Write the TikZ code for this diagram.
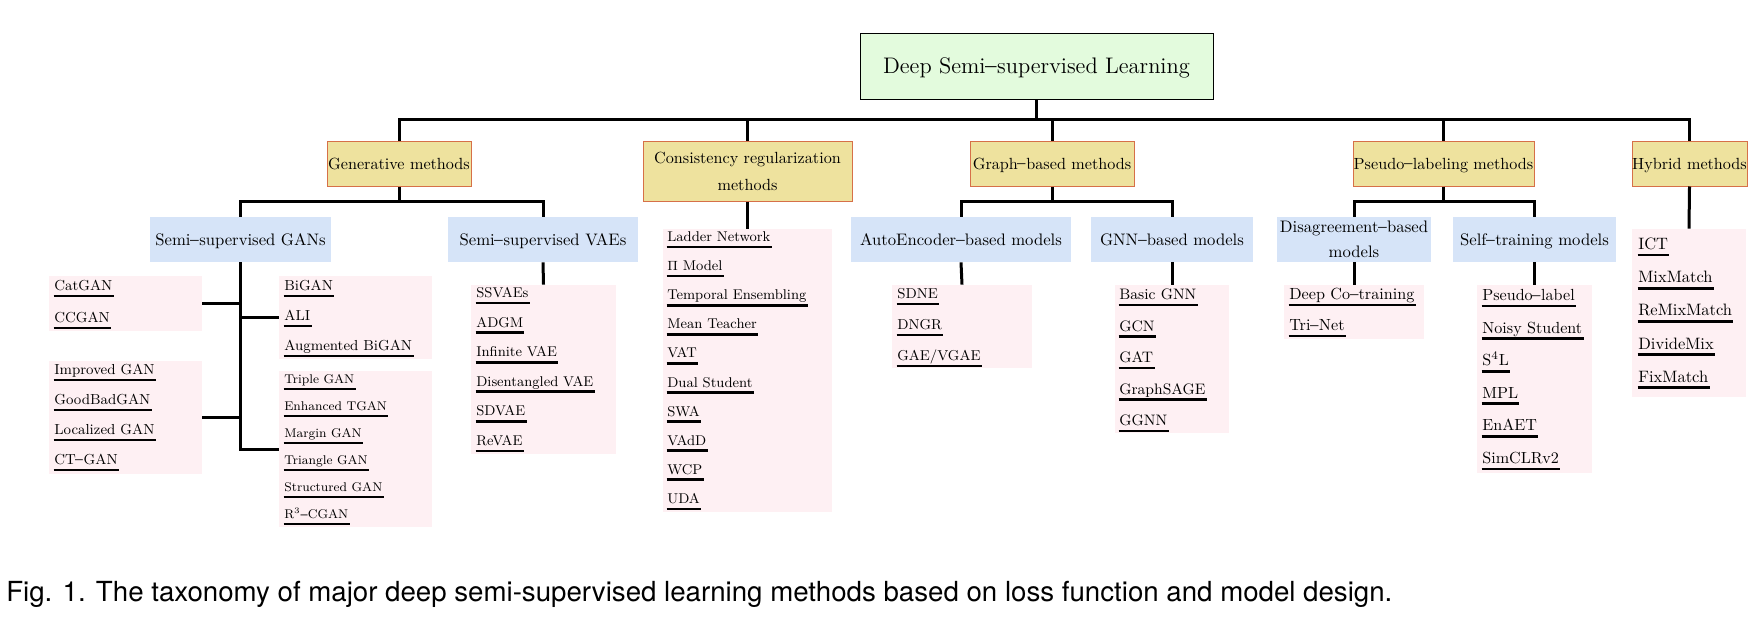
\documentclass[tikz,border=0pt]{standalone}
\usepackage{fontspec}
\usepackage{graphicx}
\newfontfamily\capfont{TeX Gyre Heros}
\newcommand\dsh{\raisebox{-0.36em}{\scalebox{1.05}[2.4]{--}}}
\newcommand\fsz[2]{\fontsize{#1}{#2}\selectfont}
\definecolor{rootgreen}{RGB}{227,251,221}
\definecolor{khakibox}{RGB}{238,226,158}
\definecolor{kborder}{RGB}{214,112,72}
\definecolor{lblue}{RGB}{214,228,248}
\definecolor{lpink}{RGB}{254,240,243}
\newcommand\itemlist[6]{%
  \foreach \t [count=\i from 0] in {#6} {%
    \node[itm, font=\fsz{#5}{#5}] (#1-\i) at (#2,{#3+#4*\i}) {\t};
    \draw[ul] ([yshift=-3.3pt,xshift=-0.3pt]#1-\i.base west) -- ([yshift=-3.3pt,xshift=0.6pt]#1-\i.base east);
  }}
\begin{document}
\begin{tikzpicture}[x=0.6pt,y=-0.6pt,
  conn/.style={line width=1.8pt,black},
  ul/.style={line width=1.6pt,black},
  rootbox/.style={draw=black,line width=0.6pt,fill=rootgreen,inner sep=0pt,
    font=\fsz{13.5pt}{16pt},text height=9.2pt,text depth=0pt},
  lvone/.style={draw=kborder,line width=0.6pt,fill=khakibox,inner sep=0pt,
    font=\fsz{9.7pt}{16.2pt},minimum height=27pt},
  lvtwo/.style={fill=lblue,inner sep=0pt,font=\fsz{10pt}{15pt},minimum height=27pt},
  plist/.style={fill=lpink,inner sep=0pt},
  itm/.style={inner sep=0pt,anchor=base west,yshift=3.3pt}]
\useasboundingbox (0,0) rectangle (1758,622);

% root
\node[rootbox,minimum width=211.8pt,minimum height=39.6pt] (root) at (1036.5,66) {Deep Semi\dsh supervised Learning};

% level 1
\node[lvone,minimum width=86.4pt,text height=6.6pt,text depth=0pt] (gen) at (399,163.5) {Generative methods};
\node[lvone,minimum width=125.4pt,minimum height=36pt,align=center] (cons) at (747.5,171) {Consistency regularization\\methods};
\node[lvone,minimum width=98.4pt,text height=6.6pt,text depth=0pt] (graph) at (1052,163.5) {Graph\dsh based methods};
\node[lvone,minimum width=108.6pt,text height=6.6pt,text depth=0pt] (pseudo) at (1443.5,163.5) {Pseudo\dsh labeling methods};
\node[lvone,minimum width=69pt,text height=6.6pt,text depth=0pt] (hyb) at (1689.5,163.5) {Hybrid methods};

% level 2
\node[lvtwo,minimum width=108.6pt,text height=6.8pt,text depth=0pt] (gans) at (240.5,239.5) {Semi\dsh supervised GANs};
\node[lvtwo,minimum width=114pt,text height=6.8pt,text depth=0pt] (vaes) at (543,239.5) {Semi\dsh supervised VAEs};
\node[lvtwo,minimum width=132pt,text height=6.8pt,text depth=0pt] (ae) at (961,239.5) {AutoEncoder\dsh based models};
\node[lvtwo,minimum width=97.2pt,text height=6.8pt,text depth=0pt] (gnn) at (1172,239.5) {GNN\dsh based models};
\node[lvtwo,minimum width=92.4pt,align=center] (dis) at (1354,239.5) {Disagreement\dsh based\\models};
\node[lvtwo,minimum width=97.8pt,text height=6.8pt,text depth=0pt] (self) at (1534.5,239.5) {Self\dsh training models};

% pink lists
\node[plist,minimum width=91.8pt,minimum height=33pt] (catl) at (125.5,303.5) {};
\node[plist,minimum width=91.8pt,minimum height=49.8pt] (bil) at (355.5,317.5) {};
\node[plist,minimum width=91.8pt,minimum height=67.8pt] (impl) at (125.5,417.5) {};
\node[plist,minimum width=91.8pt,minimum height=93.6pt] (tripl) at (355.5,449) {};
\node[plist,minimum width=87pt,minimum height=101.4pt] (vael) at (543.5,369.5) {};
\node[plist,minimum width=101.4pt,minimum height=169.8pt] (consl) at (747.5,370.5) {};
\node[plist,minimum width=84pt,minimum height=49.8pt] (ael) at (962,326.5) {};
\node[plist,minimum width=68.4pt,minimum height=88.8pt] (gnnl) at (1172,359) {};
\node[plist,minimum width=84pt,minimum height=32.4pt] (disl) at (1354,312) {};
\node[plist,minimum width=69pt,minimum height=112.8pt] (selfl) at (1534.5,379) {};
\node[plist,minimum width=68.4pt,minimum height=100.8pt] (hybl) at (1689,313) {};

% items
\itemlist{cat}{54}{296}{32}{8.7pt}{CatGAN,CCGAN}
\itemlist{bi}{284}{296}{30}{8.7pt}{BiGAN,ALI,Augmented BiGAN}
\itemlist{imp}{54}{380}{30}{8.7pt}{Improved GAN,GoodBadGAN,Localized GAN,CT\dsh GAN}
\itemlist{trip}{284}{389}{27}{7.6pt}{Triple GAN,Enhanced TGAN,Margin GAN,Triangle GAN,Structured GAN,R$^3$\dsh CGAN}
\itemlist{vae}{476}{303}{29.6}{8.5pt}{SSVAEs,ADGM,Infinite VAE,Disentangled VAE,SDVAE,ReVAE}
\itemlist{cs}{667}{247}{29.1}{8.5pt}{Ladder Network,$\Pi$ Model,Temporal Ensembling,Mean Teacher,VAT,Dual Student,SWA,VAdD,WCP,UDA}
\itemlist{aei}{897}{304}{31}{8.6pt}{SDNE,DNGR,GAE/VGAE}
\itemlist{gn}{1119}{305}{31.5}{9.1pt}{Basic GNN,GCN,GAT,GraphSAGE,GGNN}
\itemlist{ds}{1289}{305}{31}{9.7pt}{Deep Co\dsh training,Tri\dsh Net}
\itemlist{st}{1482}{306}{32.6}{9.66pt}{Pseudo\dsh label,Noisy Student,S$^4$L,MPL,EnAET,SimCLRv2}
\itemlist{hy}{1638}{255}{33.2}{9.9pt}{ICT,MixMatch,ReMixMatch,DivideMix,FixMatch}

% connectors
\coordinate (bus) at (1036,119);
\coordinate (sb) at (399,201);
\draw[conn] (root.south) -- (root.south |- bus);
\draw[conn] (gen.north) -- (gen.north |- bus) -- (hyb.north |- bus) -- (hyb.north);
\foreach \n in {cons,graph,pseudo} \draw[conn] (\n.north |- bus) -- (\n.north);
\draw[conn] (gen.south) -- (gen.south |- sb);
\draw[conn] (gans.north) -- (gans.north |- sb) -- (vaes.north |- sb) -- (vaes.north);
\draw[conn] (graph.south) -- (graph.south |- sb);
\draw[conn] (ae.north) -- (ae.north |- sb) -- (gnn.north |- sb) -- (gnn.north);
\draw[conn] (pseudo.south) -- (pseudo.south |- sb);
\draw[conn] (dis.north) -- (dis.north |- sb) -- (self.north |- sb) -- (self.north);
\draw[conn] (cons.south) -- (consl.north);
\draw[conn] (hyb.south) -- (hybl.north);
\draw[conn] (vaes.south) -- (vael.north);
\draw[conn] (ae.south) -- (ael.north);
\draw[conn] (gnn.south) -- (gnnl.north);
\draw[conn] (dis.south) -- (disl.north);
\draw[conn] (self.south) -- (selfl.north);
\draw[conn] (gans.south) |- (tripl.west);
\draw[conn] (catl.east) -- (catl.east -| gans.south);
\draw[conn] (bil.west) -- (bil.west -| gans.south);
\draw[conn] (impl.east) -- (impl.east -| gans.south);

% caption
\node[anchor=base west,inner sep=0pt] (cap) at (6,601) {\resizebox{831.6pt}{!}{\capfont Fig. 1. The taxonomy of major deep semi-supervised learning methods based on loss function and model design.}};
\end{tikzpicture}
\end{document}
